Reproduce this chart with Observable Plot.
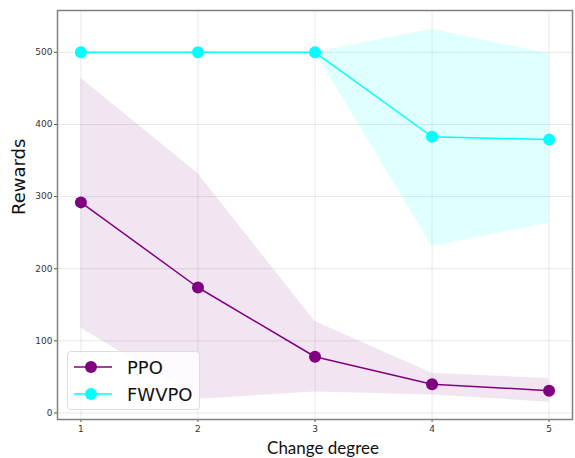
<!DOCTYPE html>
<html>
<head>
<meta charset="utf-8">
<script src="https://cdn.jsdelivr.net/npm/d3@7"></script>
<script src="https://cdn.jsdelivr.net/npm/@observablehq/plot@0.6"></script>
<style>
  html, body { margin: 0; padding: 0; background: #fff; }
  #wrap { position: relative; width: 575px; height: 458px; }
  svg { font-family: "DejaVu Sans", sans-serif; }
  #legend {
    position: absolute; left: 67px; top: 351px; width: 131px; height: 57px;
    background: rgba(255,255,255,0.85); border: 1px solid #ddd; border-radius: 4px;
    font-family: "DejaVu Sans", sans-serif; font-size: 18px; color: #111;
  }
  #legend .row { position: absolute; left: 0; height: 26px; display: flex; align-items: center; }
  #legend svg { display: block; }
</style>
</head>
<body>
<div id="wrap"></div>
<script>
const degrees = [1, 2, 3, 4, 5];
const seriesNames = ["PPO", "FWVPO"];
const seriesColors = ["#800080", "#00ffff"];
const ppoMean = [292, 174, 78, 40, 31];
const ppoLow = [118, 19, 29, 25, 15];
const ppoHigh = [464, 332, 127, 55, 48];
const fwvpoMean = [500, 500, 500, 383, 379];
const fwvpoLow = [500, 500, 500, 231, 263];
const fwvpoHigh = [500, 500, 500, 532, 498];
const yTicks = [0, 100, 200, 300, 400, 500];
const xLabel = "Change degree";
const yLabel = "Rewards";

const ppo = degrees.map((d, i) => ({x: d, y: ppoMean[i], lo: ppoLow[i], hi: ppoHigh[i]}));
const fw = degrees.map((d, i) => ({x: d, y: fwvpoMean[i], lo: fwvpoLow[i], hi: fwvpoHigh[i]}));

const chart = Plot.plot({
  width: 575,
  height: 458,
  marginLeft: 57,
  marginRight: 3,
  marginTop: 10,
  marginBottom: 39,
  x: {domain: [0.8, 5.2]},
  y: {domain: [-9, 558]},
  marks: [
    Plot.gridX(degrees, {stroke: "#000", strokeOpacity: 0.09}),
    Plot.gridY(yTicks, {stroke: "#000", strokeOpacity: 0.09}),
    Plot.areaY(ppo, {x: "x", y1: "lo", y2: "hi", fill: seriesColors[0], fillOpacity: 0.1}),
    Plot.areaY(fw, {x: "x", y1: "lo", y2: "hi", fill: seriesColors[1], fillOpacity: 0.12}),
    Plot.line(ppo, {x: "x", y: "y", stroke: seriesColors[0], strokeWidth: 1.5}),
    Plot.dot(ppo, {x: "x", y: "y", r: 6, fill: seriesColors[0], stroke: "none"}),
    Plot.line(fw, {x: "x", y: "y", stroke: seriesColors[1], strokeWidth: 1.5}),
    Plot.dot(fw, {x: "x", y: "y", r: 6, fill: seriesColors[1], stroke: "none"}),
    Plot.axisX(degrees, {tickSize: 3, tickPadding: 3, fontSize: 9, stroke: "#555", fill: "#333",
      tickFormat: d3.format("d"), label: null}),
    Plot.axisY(yTicks, {tickSize: 3, tickPadding: 2, fontSize: 9, stroke: "#555", fill: "#333",
      tickFormat: d3.format("d"), label: null}),
    Plot.text([xLabel], {frameAnchor: "bottom", dy: 34, dx: 8, fontSize: 17,
      fontFamily: "Lato, sans-serif", fill: "#111", text: d => d}),
    Plot.text([yLabel], {frameAnchor: "left", dx: -38, rotate: -90, fontSize: 18,
      fontFamily: "DejaVu Sans, sans-serif", fill: "#111", text: d => d}),
    Plot.frame({stroke: "#808080", strokeWidth: 1.5})
  ]
});
document.getElementById("wrap").appendChild(chart);

const legend = document.createElement("div");
legend.id = "legend";
seriesNames.forEach((name, i) => {
  const row = document.createElement("div");
  row.className = "row";
  row.style.top = (2 + i * 27) + "px";
  row.innerHTML = `<svg width="52" height="26"><line x1="6" x2="44" y1="13" y2="13" stroke="${seriesColors[i]}" stroke-width="1.5"/><circle cx="23" cy="13" r="6" fill="${seriesColors[i]}"/></svg><span style="margin-left:7px">${name}</span>`;
  legend.appendChild(row);
});
document.getElementById("wrap").appendChild(legend);
</script>
</body>
</html>
